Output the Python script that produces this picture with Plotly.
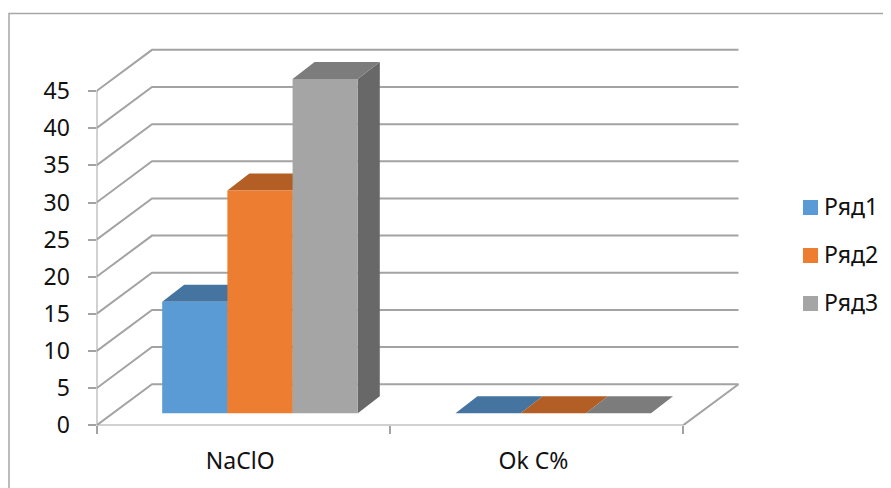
import plotly.graph_objects as go

categories = ["NaClO", "Ok C%"]
series_names = ["Ряд1", "Ряд2", "Ряд3"]
values_1 = [15, 0]
values_2 = [30, 0]
values_3 = [45, 0]
y_ticks = [0, 5, 10, 15, 20, 25, 30, 35, 40, 45]

all_values = [values_1, values_2, values_3]
PAGE_INSET = 8                  # the page body adds this margin around the figure
W, H = 891 - PAGE_INSET, 488 - PAGE_INSET
FONT = "Noto Sans"
FS = 23
TEXT = "#111111"
GRID = "#a3a3a3"
front_colors = ["#5B9BD5", "#ED7D31", "#A5A5A5"]
top_colors = ["#44749F", "#B25E24", "#7C7C7C"]
side_colors = ["#375F86", "#8E4A1C", "#686868"]

# pixel geometry of the chart frame (page pixels)
PX0, PY0 = 96.5 - PAGE_INSET, 425.4 - PAGE_INSET   # data origin
CAT_PX, UNIT_PX = 293.25, 7.43  # pixels per category, per value unit
TOP_PX, RIGHT_PX = 40 - PAGE_INSET, 750 - PAGE_INSET
WALL_DX, WALL_DY = 55.5 / CAT_PX, 41.2 / UNIT_PX    # depth of the wall
BAR_DX, BAR_DY = 22 / CAT_PX, 17.0 / UNIT_PX        # depth of a bar
BAR_BASE = 12.1 / UNIT_PX       # bars stand forward of the wall
BAR_W = 65.2 / CAT_PX
BAR_SHIFT = 0.0575

xmax = (RIGHT_PX - PX0) / CAT_PX
ymax = (PY0 - TOP_PX) / UNIT_PX
n = len(categories)
fig = go.Figure()

# walls and floor
gx, gy = [], []
for t in y_ticks:
    gx += [0, WALL_DX, n + WALL_DX, None]
    gy += [t, t + WALL_DY, t + WALL_DY, None]
gx += [0, 0, None, 0, n, n + WALL_DX, None]
gy += [0, y_ticks[-1], None, 0, 0, WALL_DY, None]
fig.add_trace(go.Scatter(x=gx, y=gy, mode="lines", showlegend=False, hoverinfo="skip",
                         line=dict(color=GRID, width=2), zorder=0))

for s, vals in enumerate(all_values):
    lefts = [i + 0.5 + BAR_SHIFT + (s - 1.5) * BAR_W for i in range(n)]
    for i, v in enumerate(vals):
        l, r = lefts[i], lefts[i] + BAR_W
        b, t = BAR_BASE, BAR_BASE + v
        if v > 0:
            fig.add_trace(go.Scatter(
                x=[r, r + BAR_DX, r + BAR_DX, r, r],
                y=[b, b + BAR_DY, t + BAR_DY, t, b],
                mode="lines", fill="toself", fillcolor=side_colors[s],
                line=dict(width=0), showlegend=False, hoverinfo="skip", zorder=3 * s + 1))
        fig.add_trace(go.Scatter(
            x=[l, l + BAR_DX, r + BAR_DX, r, l],
            y=[t, t + BAR_DY, t + BAR_DY, t, t],
            mode="lines", fill="toself", fillcolor=top_colors[s],
            line=dict(width=0), showlegend=False, hoverinfo="skip", zorder=3 * s + 2))
    fig.add_trace(go.Bar(x=lefts, y=vals, base=[BAR_BASE] * n, width=BAR_W, offset=0,
                         marker=dict(color=front_colors[s], line=dict(width=0)),
                         name=series_names[s], showlegend=False, zorder=3 * s + 3))

fig.update_layout(
    width=W, height=H, margin=dict(l=0, r=0, t=0, b=0),
    paper_bgcolor="white", plot_bgcolor="white", barmode="overlay",
    font=dict(family=FONT, size=FS, color=TEXT),
    xaxis=dict(domain=[PX0 / W, RIGHT_PX / W], range=[0, xmax], showgrid=False, zeroline=False,
               automargin=False,
               tickmode="array", tickvals=[i + 0.49 for i in range(n)], ticktext=categories,
               ticks="", ticklabelstandoff=20, tickfont=dict(family=FONT, size=FS, color=TEXT),
               minor=dict(tickmode="array", tickvals=list(range(n + 1)), ticks="outside",
                          ticklen=8, tickwidth=1.5, tickcolor=GRID, showgrid=False)),
    yaxis=dict(domain=[1 - PY0 / H, 1 - TOP_PX / H], range=[0, ymax], showgrid=False, zeroline=False,
               automargin=False,
               tickmode="array", tickvals=y_ticks, ticks="outside", ticklen=8, tickwidth=1.5,
               tickcolor=GRID, ticklabelstandoff=13, tickfont=dict(family=FONT, size=FS, color=TEXT)),
)

# chart border
fig.add_shape(type="rect", xref="paper", yref="paper", x0=(9 - PAGE_INSET) / W, x1=1.05, y0=-0.05,
              y1=1 - (13.5 - PAGE_INSET) / H,
              line=dict(color="#a6a6a6", width=1.5), fillcolor="rgba(0,0,0,0)", layer="below")

# legend key
for s, name in enumerate(series_names):
    cy = 207.5 + 48 * s - PAGE_INSET
    fig.add_shape(type="rect", xref="paper", yref="paper", x0=(803 - PAGE_INSET) / W, x1=(818 - PAGE_INSET) / W,
                  y0=1 - (cy + 7.5) / H, y1=1 - (cy - 7.5) / H,
                  fillcolor=front_colors[s], line=dict(width=0))
    fig.add_annotation(xref="paper", yref="paper", x=(825 - PAGE_INSET) / W, y=1 - cy / H, text=name,
                       showarrow=False, xanchor="left", yanchor="middle", xshift=-3, yshift=2,
                       font=dict(family=FONT, size=FS, color=TEXT))

fig.write_html("out.html")
